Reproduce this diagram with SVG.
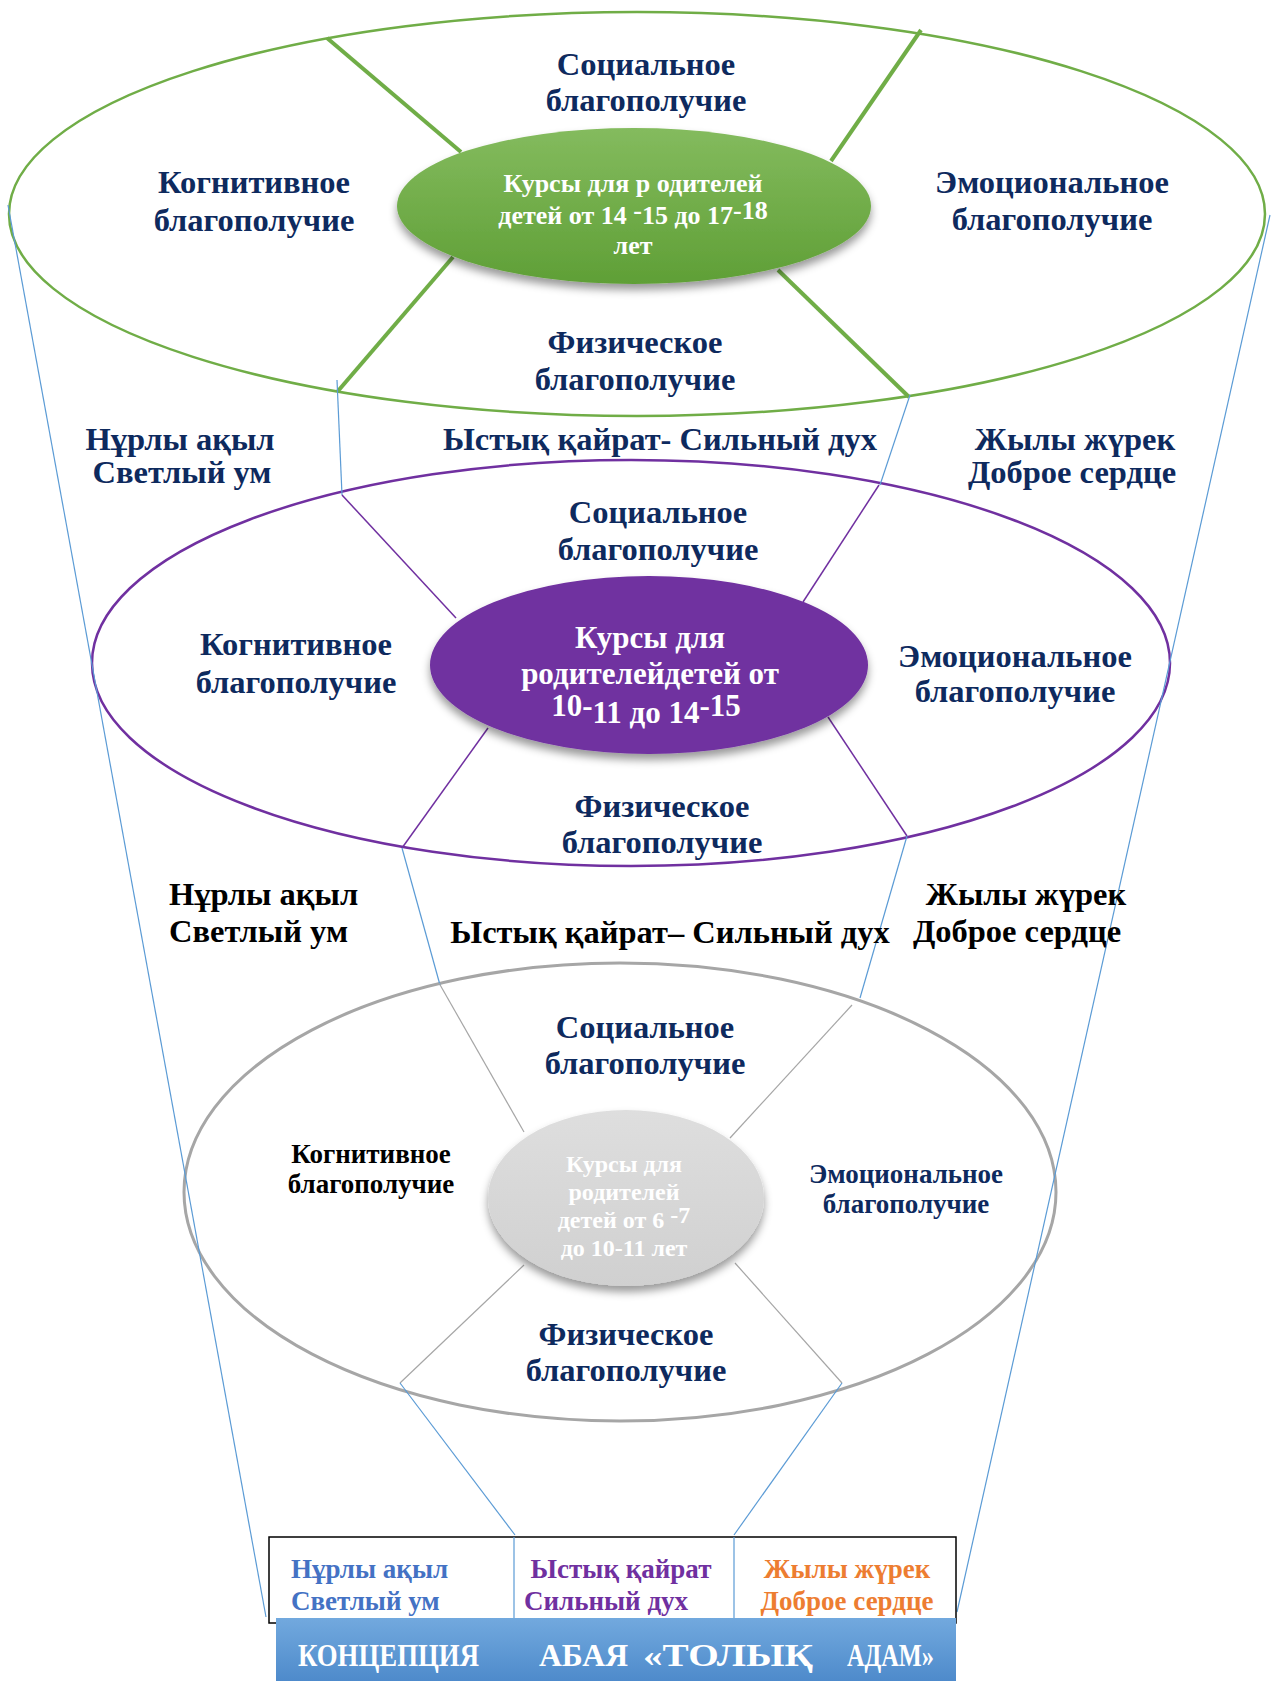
<svg xmlns="http://www.w3.org/2000/svg" width="1279" height="1681" viewBox="0 0 1279 1681">
<style>
text{font-family:"Liberation Serif","Times New Roman",serif;font-weight:bold;}
.t{font-size:32.5px;fill:#0e2a5e;text-anchor:middle;}
.ts{font-size:27px;fill:#0e2a5e;text-anchor:middle;}
.st{text-anchor:start;}
.blk{fill:#000;}
.wh{fill:#fff;text-anchor:middle;}
.bn{fill:#fff;font-size:32px;}
.blue{stroke:#5b9bd5;stroke-width:1.2;fill:none;}
.grn{stroke:#70ad47;stroke-width:4;fill:none;}
.pur{stroke:#7030a0;stroke-width:1.5;fill:none;}
.gry{stroke:#a6a6a6;stroke-width:1.2;fill:none;}
</style>
<defs>
<linearGradient id="gg" x1="0" y1="0" x2="0" y2="1"><stop offset="0" stop-color="#84bb5e"/><stop offset="1" stop-color="#5f9f36"/></linearGradient>
<linearGradient id="gy" x1="0" y1="0" x2="0" y2="1"><stop offset="0" stop-color="#dedede"/><stop offset="1" stop-color="#d0d0d0"/></linearGradient>
<linearGradient id="bb" x1="0" y1="0" x2="0" y2="1"><stop offset="0" stop-color="#72a9de"/><stop offset="1" stop-color="#4a87c9"/></linearGradient>
<filter id="sh" x="-20%" y="-20%" width="140%" height="150%"><feDropShadow dx="0" dy="6" stdDeviation="4" flood-color="#000" flood-opacity="0.4"/></filter>
</defs>

<g id="outer-ellipses">
<ellipse id="green-ring" cx="637" cy="214" rx="628" ry="202" fill="none" stroke="#70ad47" stroke-width="2.5"/>
<ellipse id="purple-ring" cx="631" cy="663" rx="539" ry="203" fill="none" stroke="#7030a0" stroke-width="2.5"/>
<ellipse id="gray-ring" cx="620" cy="1192" rx="436" ry="229" fill="none" stroke="#a6a6a6" stroke-width="3"/>
</g>

<g id="connectors">
<line class="blue" x1="8" y1="205" x2="266" y2="1617"/>
<line class="blue" x1="1270" y1="215" x2="957" y2="1612"/>
<line class="grn" x1="327" y1="38" x2="461" y2="152"/>
<line class="grn" x1="453" y1="257" x2="338" y2="391"/>
<line class="grn" x1="921" y1="30" x2="831" y2="161"/>
<line class="grn" x1="778" y1="270" x2="909" y2="397"/>
<line class="blue" x1="337" y1="380" x2="342" y2="495"/>
<line class="blue" x1="910" y1="395" x2="880" y2="485"/>
<line class="pur" x1="342" y1="495" x2="456" y2="618"/>
<line class="pur" x1="488" y1="728" x2="402" y2="848"/>
<line class="pur" x1="879" y1="485" x2="803" y2="602"/>
<line class="pur" x1="828" y1="717" x2="907" y2="836"/>
<line class="blue" x1="402" y1="848" x2="440" y2="985"/>
<line class="blue" x1="907" y1="836" x2="860" y2="998"/>
<line class="gry" x1="439" y1="983" x2="524" y2="1132"/>
<line class="gry" x1="524" y1="1265" x2="400" y2="1383"/>
<line class="gry" x1="852" y1="1005" x2="730" y2="1138"/>
<line class="gry" x1="735" y1="1263" x2="842" y2="1383"/>
<line class="blue" x1="400" y1="1383" x2="515" y2="1535"/>
<line class="blue" x1="842" y1="1383" x2="734" y2="1535"/>
</g>

<g id="center-green">
<ellipse cx="634" cy="206" rx="237" ry="78" fill="url(#gg)" filter="url(#sh)"/>
<text class="wh" font-size="26" x="633" y="192">Курсы для р одителей</text>
<text class="wh" font-size="26" x="633" y="224">детей от 14 <tspan dy="-5">-</tspan><tspan dy="5">15 до 17</tspan><tspan dy="-5">-18</tspan></text>
<text class="wh" font-size="26" x="633" y="254">лет</text>
</g>

<g id="center-purple">
<ellipse cx="649" cy="665" rx="219" ry="89" fill="#7030a0" filter="url(#sh)"/>
<text class="wh" font-size="31" x="650" y="648">Курсы для</text>
<text class="wh" font-size="31" x="650" y="684">родителейдетей от</text>
<text class="wh" font-size="31" x="646" y="723"><tspan dy="-7">10-</tspan><tspan dy="7">11 до 14</tspan><tspan dy="-7">-15</tspan></text>
</g>

<g id="center-gray">
<ellipse cx="626" cy="1198" rx="138" ry="88" fill="url(#gy)" filter="url(#sh)"/>
<text class="wh" font-size="24" fill="#f6f6f6" x="624" y="1172">Курсы для</text>
<text class="wh" font-size="24" fill="#f6f6f6" x="624" y="1200">родителей</text>
<text class="wh" font-size="24" fill="#f6f6f6" x="624" y="1228">детей от 6 <tspan dy="-5">-7</tspan></text>
<text class="wh" font-size="24" fill="#f6f6f6" x="624" y="1256">до 10-11 лет</text>
</g>

<g id="green-social"><text class="t" x="646" y="75">Социальное</text><text class="t" x="646" y="111">благополучие</text></g>
<g id="green-cognitive"><text class="t" x="254" y="193">Когнитивное</text><text class="t" x="254" y="231">благополучие</text></g>
<g id="green-emotional"><text class="t" x="1052" y="193">Эмоциональное</text><text class="t" x="1052" y="230">благополучие</text></g>
<g id="green-physical"><text class="t" x="635" y="353">Физическое</text><text class="t" x="635" y="390">благополучие</text></g>

<g id="tier1-mind"><text class="t" x="180" y="450">Нұрлы ақыл</text><text class="t" x="182" y="483">Светлый ум</text></g>
<g id="tier1-spirit"><text class="t" x="660" y="450">Ыстық  қайрат- Сильный дух</text></g>
<g id="tier1-heart"><text class="t" x="1075" y="450">Жылы жүрек</text><text class="t" x="1072" y="483">Доброе сердце</text></g>

<g id="purple-social"><text class="t" x="658" y="523">Социальное</text><text class="t" x="658" y="560">благополучие</text></g>
<g id="purple-cognitive"><text class="t" x="296" y="655">Когнитивное</text><text class="t" x="296" y="693">благополучие</text></g>
<g id="purple-emotional"><text class="t" x="1015" y="667">Эмоциональное</text><text class="t" x="1015" y="702">благополучие</text></g>
<g id="purple-physical"><text class="t" x="662" y="817">Физическое</text><text class="t" x="662" y="853">благополучие</text></g>

<g id="tier2-mind"><text class="t blk st" x="169" y="905">Нұрлы ақыл</text><text class="t blk st" x="169" y="942">Светлый ум</text></g>
<g id="tier2-spirit"><text class="t blk" x="670" y="943">Ыстық  қайрат– Сильный дух</text></g>
<g id="tier2-heart"><text class="t blk" x="1026" y="905">Жылы жүрек</text><text class="t blk" x="1017" y="942">Доброе сердце</text></g>

<g id="gray-social"><text class="t" x="645" y="1038">Социальное</text><text class="t" x="645" y="1074">благополучие</text></g>
<g id="gray-cognitive"><text class="ts blk" x="371" y="1163">Когнитивное</text><text class="ts blk" x="371" y="1193">благополучие</text></g>
<g id="gray-emotional"><text class="ts" x="906" y="1183">Эмоциональное</text><text class="ts" x="906" y="1213">благополучие</text></g>
<g id="gray-physical"><text class="t" x="626" y="1345">Физическое</text><text class="t" x="626" y="1381">благополучие</text></g>

<g id="concept-box">
<rect x="269" y="1537" width="687" height="86" fill="#fff" stroke="#000" stroke-width="1.5"/>
<line class="blue" x1="514" y1="1537" x2="514" y2="1623"/>
<line class="blue" x1="734" y1="1537" x2="734" y2="1623"/>
<text font-size="27" fill="#4472c4" x="291" y="1578">Нұрлы ақыл</text>
<text font-size="27" fill="#4472c4" x="291" y="1610">Светлый ум</text>
<text font-size="27" fill="#7030a0" text-anchor="middle" x="621" y="1578">Ыстық қайрат</text>
<text font-size="27" fill="#7030a0" text-anchor="middle" x="606" y="1610">Сильный дух</text>
<text font-size="27" fill="#ed7d31" text-anchor="middle" x="847" y="1578">Жылы жүрек</text>
<text font-size="27" fill="#ed7d31" text-anchor="middle" x="847" y="1610">Доброе сердце</text>
</g>

<g id="banner">
<rect x="276" y="1618" width="680" height="70" fill="url(#bb)"/>
<text class="bn" x="298" y="1666" textLength="181" lengthAdjust="spacingAndGlyphs">КОНЦЕПЦИЯ</text>
<text class="bn" x="539" y="1666" textLength="89" lengthAdjust="spacingAndGlyphs">АБАЯ</text>
<text class="bn" x="643" y="1666" textLength="170" lengthAdjust="spacingAndGlyphs">«ТОЛЫҚ</text>
<text class="bn" x="847" y="1666" textLength="87" lengthAdjust="spacingAndGlyphs">АДАМ»</text>
</g>
</svg>
